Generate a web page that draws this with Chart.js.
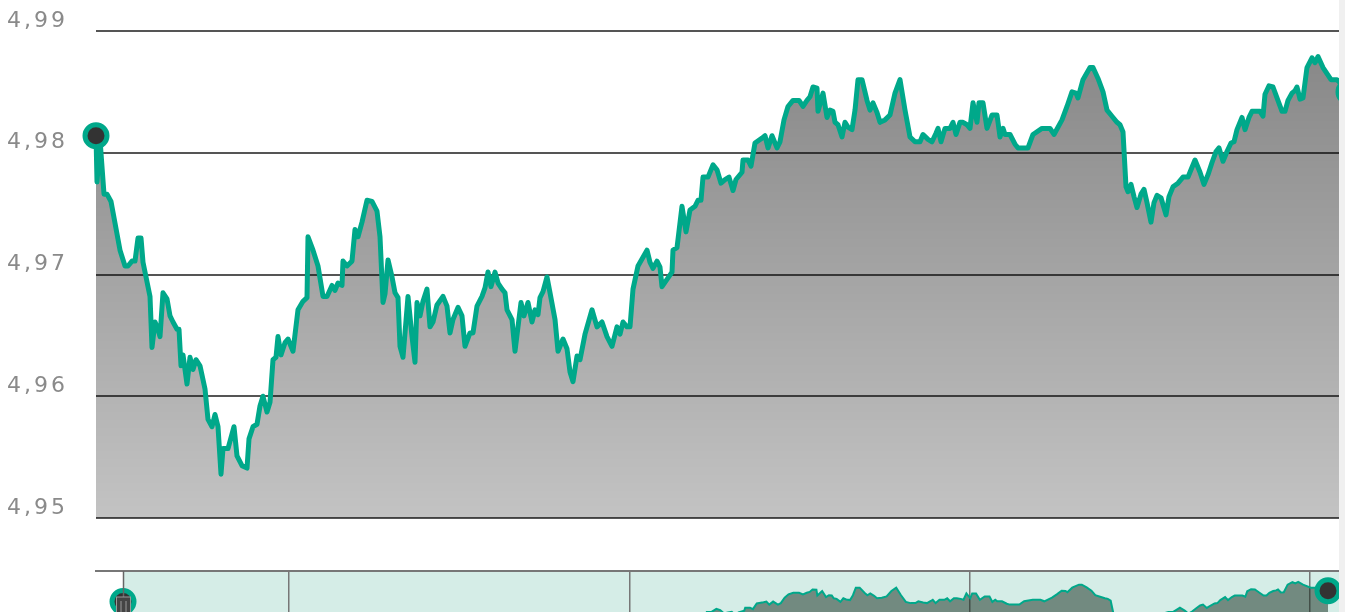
<!DOCTYPE html>
<html>
<head>
<meta charset="utf-8">
<script src="https://cdn.jsdelivr.net/npm/chart.js@4/dist/chart.umd.min.js"></script>
<style>
  html, body { margin: 0; padding: 0; background: #fff; overflow: hidden; }
  #wrap { position: relative; width: 1345px; height: 612px; overflow: hidden; }
  #main { position: absolute; left: 0; top: 0; }
  #nav { position: absolute; left: 0; top: 560px; }
  #strip { position: absolute; left: 1339px; top: 0; width: 6px; height: 612px; background: #f0f0f0; }
</style>
</head>
<body>
<div id="wrap">
  <canvas id="main" width="1352" height="540"></canvas>
  <canvas id="nav" width="1352" height="140"></canvas>
  <div id="strip"></div>
</div>
<script>
// ---- data (time position along the period, exchange rate) ----
const times = [0,0.5,2,4,5.5,7.5,12,14.5,16,18,
19.5,21,22.5,23.5,27,28,29.5,31,32,33.5,
35.5,37,38.5,40.5,41.5,42.5,43.5,45.5,47,48.5,
50,52,54.5,56,58,59.5,61,62.5,63.5,66,
69,70.5,73,75.5,76.5,78.5,80.5,82,83.5,85.5,
87,88.5,90,91,92.5,94.5,96,98.5,101,103.5,
105.5,106,108.5,111,113.5,115.5,118,119.5,121,123,
123.5,125.5,128,129.5,131,133,135.5,138,140.5,142,
143.5,144.5,146,148,149.5,151,152,153.5,156,158,
159.5,160.5,162,163.5,165.5,167,168.5,170.5,173.5,175.5,
177,178.5,181,183,184.5,187,188.5,190.5,193,194.5,
196,197.5,199.5,201,203,204.5,205.5,208,209.5,212.5,
214,216,218,219.5,221,222,223.5,225.5,227,229.5,
231,233.5,235.5,237,238.5,240.5,242,244.5,248,250.5,
253,255.5,258,260.5,262,263.5,265.5,267,268.5,271,
275.5,277,278.5,280.5,282,283,285.5,288,288.5,290.5,
293,295,297,299.5,301,302.5,303.5,306,308.5,310.5,
312.5,314.5,316.5,318.5,320,323,323.5,326,327.5,329.5,
333,334.5,336,338,340.5,342,344,346,348.5,351.5,
353.5,355.5,357,358.5,360.5,361,363.5,365.5,367,368.5,
369.5,371,373,374.5,376,378,379.5,381,383,385.5,
387,388.5,390.5,392,394.5,397,399.5,402,404.5,407,
409.5,412,413.5,416,418,420,421,422.5,424.5,427,
428.5,430,432,433.5,435.5,437,438.5,440.5,441.5,443.5,
445.5,448,450.5,452,453.5,454.5,457,459.5,461,466,
468.5,473,477,479,483,485.5,488,490,491,493.5,
497,498.5,501,503.5,505.5,508,510.5,512,513.5,515,
516,517.5,519,520.5,522.5,524,525.5,527.5,529,530.5,
532.5,535,536.5,538.5,541,543.5,546,547.5,549.5,552,
554,556,558,560,561.5,563.5,565.5,567.5,569,570.5,
573,574.5,576.5,578,580.5,582,583.5,584.5,586.5,588.5,
590.5,593,594.5,596,598,599.5,600.5,602,603.5,605.5,
608,609.5,611,613.5,617.5,620.5,626.5];

const rates = [4.9814,4.9776,4.9811,4.9766,4.9766,4.9760,4.9720,4.9707,4.9707,4.9711,
4.9711,4.9730,4.9730,4.9710,4.9682,4.9640,4.9661,4.9655,4.9649,4.9685,
4.9680,4.9666,4.9661,4.9655,4.9655,4.9625,4.9634,4.9610,4.9632,4.9622,
4.9630,4.9625,4.9606,4.9581,4.9575,4.9585,4.9575,4.9536,4.9557,4.9557,
4.9575,4.9551,4.9543,4.9541,4.9565,4.9575,4.9577,4.9592,4.9600,4.9587,
4.9595,4.9630,4.9632,4.9649,4.9634,4.9644,4.9647,4.9637,4.9671,4.9678,
4.9681,4.9731,4.9720,4.9707,4.9682,4.9682,4.9691,4.9687,4.9693,4.9691,
4.9711,4.9707,4.9711,4.9737,4.9731,4.9743,4.9761,4.9760,4.9752,4.9731,
4.9677,4.9684,4.9712,4.9698,4.9685,4.9681,4.9641,4.9632,4.9682,4.9649,
4.9628,4.9677,4.9666,4.9678,4.9688,4.9657,4.9661,4.9675,4.9682,4.9674,
4.9652,4.9663,4.9673,4.9666,4.9641,4.9652,4.9652,4.9674,4.9682,4.9689,
4.9702,4.9690,4.9702,4.9693,4.9688,4.9685,4.9671,4.9663,4.9637,4.9677,
4.9666,4.9677,4.9661,4.9671,4.9667,4.9681,4.9686,4.9698,4.9685,4.9663,
4.9637,4.9647,4.9639,4.9620,4.9612,4.9633,4.9630,4.9651,4.9671,4.9657,
4.9661,4.9649,4.9641,4.9657,4.9651,4.9661,4.9657,4.9657,4.9688,4.9707,
4.9720,4.9710,4.9705,4.9711,4.9706,4.9690,4.9696,4.9702,4.9720,4.9722,
4.9756,4.9735,4.9753,4.9756,4.9761,4.9761,4.9780,4.9780,4.9790,4.9786,
4.9775,4.9778,4.9780,4.9769,4.9778,4.9784,4.9794,4.9794,4.9789,4.9808,
4.9812,4.9814,4.9804,4.9814,4.9804,4.9809,4.9827,4.9838,4.9843,4.9843,
4.9838,4.9843,4.9846,4.9854,4.9853,4.9834,4.9849,4.9829,4.9835,4.9834,
4.9825,4.9823,4.9813,4.9825,4.9821,4.9819,4.9835,4.9860,4.9860,4.9843,
4.9835,4.9841,4.9833,4.9825,4.9827,4.9831,4.9849,4.9860,4.9835,4.9813,
4.9809,4.9809,4.9815,4.9811,4.9809,4.9816,4.9820,4.9809,4.9820,4.9820,
4.9825,4.9815,4.9825,4.9825,4.9823,4.9820,4.9841,4.9825,4.9841,4.9841,
4.9820,4.9831,4.9831,4.9813,4.9820,4.9815,4.9815,4.9807,4.9804,4.9804,
4.9815,4.9820,4.9820,4.9815,4.9827,4.9838,4.9850,4.9849,4.9845,4.9860,
4.9870,4.9870,4.9861,4.9850,4.9835,4.9830,4.9825,4.9823,4.9817,4.9772,
4.9768,4.9774,4.9764,4.9755,4.9766,4.9770,4.9759,4.9743,4.9759,4.9765,
4.9763,4.9749,4.9764,4.9772,4.9775,4.9780,4.9780,4.9786,4.9794,4.9784,
4.9774,4.9782,4.9792,4.9801,4.9804,4.9793,4.9801,4.9808,4.9809,4.9819,
4.9829,4.9819,4.9829,4.9834,4.9834,4.9834,4.9830,4.9848,4.9855,4.9854,
4.9845,4.9834,4.9834,4.9843,4.9849,4.9851,4.9854,4.9844,4.9845,4.9870,
4.9878,4.9874,4.9879,4.9870,4.9860,4.9860,4.9850];

const yTickValues = [4.95, 4.96, 4.97, 4.98, 4.99];
const yTickLabels = ['4,95', '4,96', '4,97', '4,98', '4,99'];
const navTickTimes = [86.3, 263.6, 440.4, 617.1];

// ---- styling ----
const TEAL = '#00a88a';
const points = times.map((t, i) => ({ x: t, y: rates[i] }));
const lastIdx = points.length - 1;
const endRadius = (ctx) => (ctx.dataIndex === 0 || ctx.dataIndex === lastIdx) ? 11 : 0;

const spacingPlugin = {
  id: 'spacing',
  beforeDraw(chart) { chart.ctx.letterSpacing = '3px'; }
};

new Chart(document.getElementById('main'), {
  type: 'line',
  data: {
    datasets: [{
      data: points,
      borderColor: TEAL,
      borderWidth: 5,
      borderJoinStyle: 'round',
      borderCapStyle: 'round',
      tension: 0,
      fill: 'start',
      backgroundColor: (ctx) => {
        const a = ctx.chart.chartArea;
        if (!a) return 'rgba(0,0,0,0.35)';
        const g = ctx.chart.ctx.createLinearGradient(0, a.top, 0, a.bottom);
        g.addColorStop(0, 'rgba(0,0,0,0.48)');
        g.addColorStop(1, 'rgba(0,0,0,0.235)');
        return g;
      },
      pointRadius: endRadius,
      pointHoverRadius: endRadius,
      pointBackgroundColor: '#333333',
      pointBorderColor: TEAL,
      pointBorderWidth: 5,
      clip: false
    }]
  },
  options: {
    responsive: false,
    animation: false,
    devicePixelRatio: 1,
    layout: { autoPadding: false, padding: { left: 7, right: 0, top: 31, bottom: 22 } },
    plugins: { legend: { display: false }, tooltip: { enabled: false } },
    events: [],
    scales: {
      x: { type: 'linear', min: 0, max: 628, display: false },
      y: {
        type: 'linear', min: 4.95, max: 4.99,
        afterBuildTicks: (s) => { s.ticks = yTickValues.map(v => ({ value: v })); },
        afterFit: (s) => { s.width = 89; },
        border: { display: false },
        grid: { color: '#555555', lineWidth: 2, drawTicks: false },
        ticks: {
          crossAlign: 'far',
          labelOffset: -10,
          color: '#8a8a8a',
          font: { family: 'DejaVu Sans', size: 22 },
          callback: (v) => yTickLabels[yTickValues.findIndex(t => Math.abs(t - v) < 1e-6)]
        }
      }
    }
  },
  plugins: [spacingPlugin]
});

const navMaskPlugin = {
  id: 'navMask',
  beforeDraw(chart) {
    const { ctx, chartArea: a, scales } = chart;
    const x0 = scales.x.getPixelForValue(0);
    ctx.save();
    ctx.fillStyle = '#d5ede7';
    ctx.fillRect(x0, a.top, a.right - x0, a.bottom - a.top);
    ctx.restore();
  },
  afterDatasetsDraw(chart) {
    const { ctx, chartArea: a, scales } = chart;
    const x0 = Math.round(scales.x.getPixelForValue(0)) + 0.5;
    const rTop = a.top + 26;
    ctx.save();
    ctx.strokeStyle = '#666666';
    ctx.lineWidth = 1.5;
    ctx.beginPath();
    ctx.moveTo(x0, a.top);
    ctx.lineTo(x0, rTop);
    ctx.stroke();
    ctx.fillStyle = '#444444';
    ctx.strokeStyle = '#999999';
    ctx.lineWidth = 1;
    ctx.fillRect(x0 - 7, rTop, 14, 40);
    ctx.strokeRect(x0 - 7, rTop, 14, 40);
    ctx.beginPath();
    ctx.moveTo(x0 - 2.5, rTop + 4); ctx.lineTo(x0 - 2.5, rTop + 40);
    ctx.moveTo(x0 + 2.5, rTop + 4); ctx.lineTo(x0 + 2.5, rTop + 40);
    ctx.stroke();
    ctx.restore();
  }
};

new Chart(document.getElementById('nav'), {
  type: 'line',
  data: {
    datasets: [{
      data: points,
      borderColor: TEAL,
      borderWidth: 2,
      tension: 0,
      fill: 'start',
      backgroundColor: 'rgba(15,39,25,0.5)',
      pointRadius: endRadius,
      pointHoverRadius: endRadius,
      pointBackgroundColor: '#333333',
      pointBorderColor: TEAL,
      pointBorderWidth: 5,
      clip: false
    }]
  },
  options: {
    responsive: false,
    animation: false,
    devicePixelRatio: 1,
    layout: { autoPadding: false, padding: { left: 96, right: 0, top: 11, bottom: 13 } },
    plugins: { legend: { display: false }, tooltip: { enabled: false } },
    events: [],
    scales: {
      x: {
        type: 'linear', position: 'top', min: -14.04, max: 638.97,
        afterBuildTicks: (s) => { s.ticks = navTickTimes.map(v => ({ value: v })); },
        ticks: { display: false },
        grid: { color: '#777777', lineWidth: 1.5, drawTicks: false },
        border: { display: true, color: '#777777', width: 2 }
      },
      y: { type: 'linear', min: 4.9532, max: 4.9915, display: false }
    }
  },
  plugins: [navMaskPlugin]
});
</script>
</body>
</html>
